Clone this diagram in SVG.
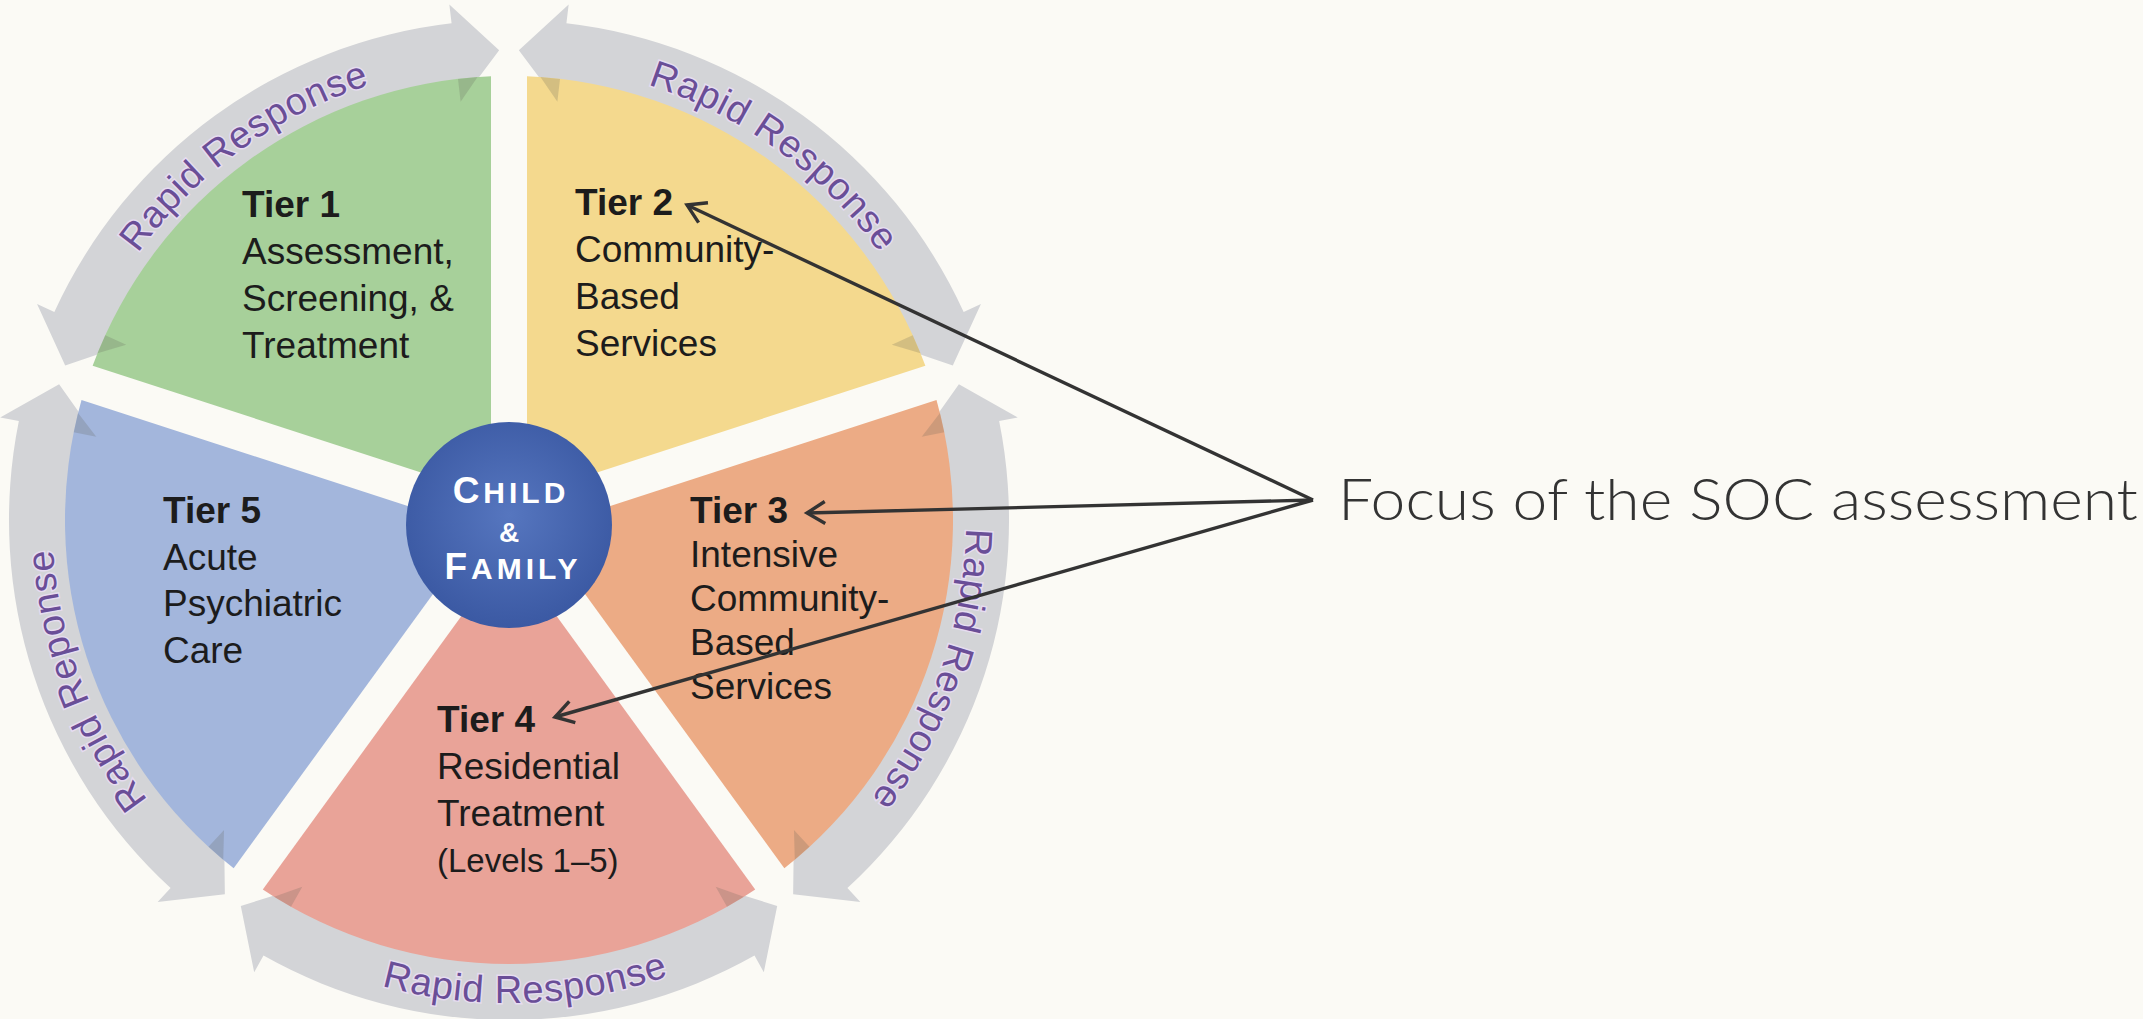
<svg xmlns="http://www.w3.org/2000/svg" width="2143" height="1019" viewBox="0 0 2143 1019">
<style>
  .bg{fill:#fbfaf5}
  .band{fill:#d3d4d7}
  .notch{fill:#5f6157;opacity:.22}
  .lbl{font-family:"Liberation Sans",Arial,sans-serif;font-size:37px;fill:#1c1c1c}
  .t{font-weight:bold}
  .small{font-size:33px}
  .rr{font-family:"Liberation Sans",Arial,sans-serif;font-size:38px;fill:#6a4e97;stroke:#e6dcf0;stroke-width:3px;paint-order:stroke;letter-spacing:0.8px}
  .hub{font-family:"Liberation Sans",Arial,sans-serif;font-weight:bold;fill:#fff;letter-spacing:4px}
  .link{fill:none;stroke:#333;stroke-width:3.4;marker-end:url(#open)}
  .caption{font-family:Lato,"Open Sans",sans-serif;font-weight:300;font-size:57px;fill:#333}
</style>
<defs>
  <!-- one wedge, centred on the upward direction; rotated into place per tier -->
  <path id="sector" d="M0,-30.6 L-246.2,-369.5 A444,444 0 0 1 246.2,-369.5 Z"/>
  <!-- curved double-headed band that wraps a wedge -->
  <path id="band" d="M-268.2,-385.9 L-254.8,-452.2 L-245.5,-435.6 A500,500 0 0 1 245.5,-435.6 L254.8,-452.2 L268.2,-385.9 L206.7,-366.8 L216,-383.3 A440,440 0 0 0 -216,-383.3 L-206.7,-366.8 Z"/>
  <!-- inner barbs of the band showing through the wedge -->
  <path id="notches" d="M-234.9,-376.8 L-218,-386.8 L-206.7,-366.8 Z M234.9,-376.8 L218,-386.8 L206.7,-366.8 Z"/>
  <!-- baselines for the ring captions (relative to wheel centre) -->
  <path id="rr1" d="M-429.4,-156.3 A457,457 0 0 1 -15.9,-456.7"/>
  <path id="rr2" d="M15.9,-456.7 A457,457 0 0 1 429.4,-156.3"/>
  <path id="rr3" d="M439.3,-126 A457,457 0 0 1 281.4,360.1"/>
  <path id="rr4" d="M-270.1,400.4 A483,483 0 0 0 270.1,400.4"/>
  <path id="rr5" d="M-281.4,360.1 A457,457 0 0 1 -439.3,-126"/>
  <marker id="open" markerUnits="userSpaceOnUse" markerWidth="30" markerHeight="30" viewBox="-24 -15 30 30" refX="0" refY="0" orient="auto">
    <path d="M-18,-11 L0,0 L-18,11" fill="none" stroke="#333" stroke-width="3.4"/>
  </marker>
  <radialGradient id="hubfill" cx="0.5" cy="0.45" r="0.55">
    <stop offset="0" stop-color="#5676bf"/>
    <stop offset="1" stop-color="#3b59a3"/>
  </radialGradient>
</defs>

<rect class="bg" x="0" y="0" width="2143" height="1019"/>

<!-- Rapid Response ring -->
<g id="rapid-response">
  <g transform="translate(509,520)">
    <use href="#band" class="band" transform="rotate(-36)"/>
    <use href="#band" class="band" transform="rotate(36)"/>
    <use href="#band" class="band" transform="rotate(108)"/>
    <use href="#band" class="band" transform="rotate(180)"/>
    <use href="#band" class="band" transform="rotate(252)"/>
    <text class="rr"><textPath href="#rr1" startOffset="50%" text-anchor="middle">Rapid Response</textPath></text>
    <text class="rr"><textPath href="#rr2" startOffset="50%" text-anchor="middle">Rapid Response</textPath></text>
    <text class="rr"><textPath href="#rr3" startOffset="52%" text-anchor="middle">Rapid Response</textPath></text>
    <text class="rr"><textPath href="#rr4" startOffset="53%" text-anchor="middle">Rapid Response</textPath></text>
    <text class="rr"><textPath href="#rr5" startOffset="46%" text-anchor="middle">Rapid Reponse</textPath></text>
  </g>
</g>

<g id="tier1">
  <use href="#sector" fill="#a7d09a" transform="translate(509,520) rotate(-36)"/>
  <use href="#notches" class="notch" transform="translate(509,520) rotate(-36)"/>
  <text class="lbl t" x="242" y="217">Tier 1</text>
  <text class="lbl" x="242" y="264">Assessment,</text>
  <text class="lbl" x="242" y="311">Screening, &amp;</text>
  <text class="lbl" x="242" y="358">Treatment</text>
</g>

<g id="tier2">
  <use href="#sector" fill="#f4d98e" transform="translate(509,520) rotate(36)"/>
  <use href="#notches" class="notch" transform="translate(509,520) rotate(36)"/>
  <text class="lbl t" x="575" y="215">Tier 2</text>
  <text class="lbl" x="575" y="262">Community-</text>
  <text class="lbl" x="575" y="309">Based</text>
  <text class="lbl" x="575" y="356">Services</text>
</g>

<g id="tier3">
  <use href="#sector" fill="#ecab85" transform="translate(509,520) rotate(108)"/>
  <use href="#notches" class="notch" transform="translate(509,520) rotate(108)"/>
  <text class="lbl t" x="690" y="523">Tier 3</text>
  <text class="lbl" x="690" y="567">Intensive</text>
  <text class="lbl" x="690" y="611">Community-</text>
  <text class="lbl" x="690" y="655">Based</text>
  <text class="lbl" x="690" y="699">Services</text>
</g>

<g id="tier4">
  <use href="#sector" fill="#e9a398" transform="translate(509,520) rotate(180)"/>
  <use href="#notches" class="notch" transform="translate(509,520) rotate(180)"/>
  <text class="lbl t" x="437" y="732">Tier 4</text>
  <text class="lbl" x="437" y="779">Residential</text>
  <text class="lbl" x="437" y="826">Treatment</text>
  <text class="lbl small" x="437" y="872">(Levels 1–5)</text>
</g>

<g id="tier5">
  <use href="#sector" fill="#a3b6dc" transform="translate(509,520) rotate(252)"/>
  <use href="#notches" class="notch" transform="translate(509,520) rotate(252)"/>
  <text class="lbl t" x="163" y="523">Tier 5</text>
  <text class="lbl" x="163" y="570">Acute</text>
  <text class="lbl" x="163" y="616">Psychiatric</text>
  <text class="lbl" x="163" y="663">Care</text>
</g>

<g id="child-family">
  <circle cx="509" cy="525" r="103" fill="url(#hubfill)"/>
  <text class="hub" x="511" y="503" text-anchor="middle"><tspan font-size="37">C</tspan><tspan font-size="30">HILD</tspan></text>
  <text class="hub" x="511" y="542" text-anchor="middle" font-size="28">&amp;</text>
  <text class="hub" x="513" y="579" text-anchor="middle"><tspan font-size="37">F</tspan><tspan font-size="30">AMILY</tspan></text>
</g>

<g id="connectors">
  <line class="link" x1="1313" y1="500" x2="687" y2="205"/>
  <line class="link" x1="1313" y1="500" x2="807" y2="513"/>
  <line class="link" x1="1313" y1="500" x2="555" y2="717"/>
</g>

<g id="focus-label">
  <text class="caption" x="1338" y="520" textLength="800" lengthAdjust="spacingAndGlyphs">Focus of the SOC assessment</text>
</g>
</svg>
